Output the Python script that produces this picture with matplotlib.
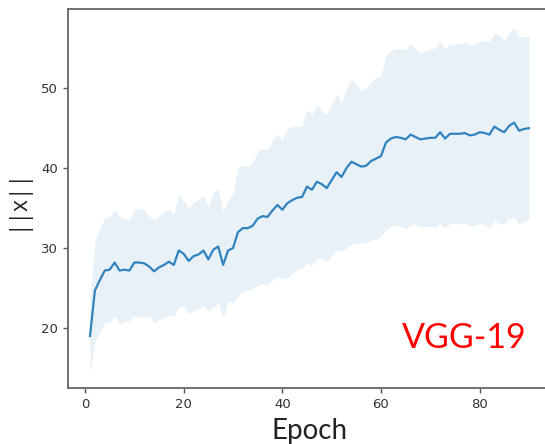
import numpy as np
import matplotlib
matplotlib.use('Agg')
import matplotlib.pyplot as plt

# mean weight norm per epoch and its spread across runs
epochs = list(range(1, 91))
norm_mean = [19.0, 24.7, 26.0, 27.2, 27.3, 28.2, 27.2, 27.3, 27.2, 28.2,
             28.2, 28.1, 27.7, 27.1, 27.6, 27.9, 28.3, 27.9, 29.7, 29.3,
             28.4, 29.0, 29.2, 29.7, 28.6, 29.8, 30.2, 27.9, 29.7, 30.0,
             32.0, 32.5, 32.5, 32.8, 33.7, 34.0, 33.9, 34.7, 35.4, 34.8,
             35.6, 36.0, 36.3, 36.4, 37.7, 37.3, 38.3, 38.0, 37.5, 38.5,
             39.5, 38.9, 40.0, 40.8, 40.5, 40.2, 40.3, 40.9, 41.2, 41.5,
             43.2, 43.7, 43.9, 43.8, 43.6, 44.2, 43.9, 43.6, 43.7, 43.8,
             43.8, 44.5, 43.7, 44.3, 44.3, 44.3, 44.4, 44.1, 44.2, 44.5,
             44.4, 44.2, 45.2, 44.8, 44.5, 45.3, 45.7, 44.7, 44.9, 45.0]
norm_sd = [4.5, 6.2, 6.5, 6.5, 6.6, 6.6, 6.8, 6.4, 6.3, 6.7,
           6.8, 6.7, 6.3, 6.4, 6.5, 6.6, 6.6, 6.4, 7.0, 6.6,
           6.6, 6.7, 6.8, 6.9, 6.5, 7.2, 7.1, 6.6, 6.3, 6.9,
           8.0, 7.9, 7.8, 7.9, 8.4, 8.4, 8.4, 8.7, 8.9, 8.7,
           9.3, 9.2, 9.0, 8.9, 9.6, 9.4, 9.6, 9.3, 9.2, 9.5,
           9.8, 9.2, 10.0, 10.3, 10.0, 9.5, 9.7, 9.9, 10.1, 10.0,
           10.9, 11.0, 11.0, 11.1, 11.2, 11.3, 11.0, 10.9, 11.0, 11.1,
           11.2, 11.4, 11.2, 11.2, 11.2, 11.3, 11.3, 11.3, 11.4, 11.4,
           11.5, 11.6, 11.7, 11.8, 11.5, 11.6, 11.9, 11.7, 11.5, 11.5]

x = np.array(epochs)
m = np.array(norm_mean)
sd = np.array(norm_sd)

fig = plt.figure(figsize=(5.45, 4.44), dpi=100)
ax = fig.add_axes([0.1248, 0.126, 0.886, 0.8536])

ax.fill_between(x, m - sd, m + sd, color='#1f77b4', alpha=0.1, lw=0)
ax.plot(x, m, color='#3183c0', lw=1.6)

ax.set_xlim(-3.45, 94.45)
ax.set_ylim(12.5, 59.9)
ax.set_xticks([0, 20, 40, 60, 80])
ax.set_yticks([20, 30, 40, 50])
ax.tick_params(labelsize=9.5, colors='#555555', labelcolor='#333333', length=3.5, width=1)
for s in ax.spines.values():
    s.set_color('#666666')
    s.set_linewidth(1.3)

ax.set_xlabel('Epoch', fontsize=20, family='Lato', color='#222222', labelpad=5)
ax.set_ylabel('||x||', fontsize=16.5, family='Open Sans', color='#222222', labelpad=9)
ax.text(0.95, 0.1055, 'VGG-19', transform=ax.transAxes, ha='right', va='baseline',
        fontsize=24.5, family='Lato', color='red')

plt.savefig('out.png', dpi=100)
plt.close('all')
